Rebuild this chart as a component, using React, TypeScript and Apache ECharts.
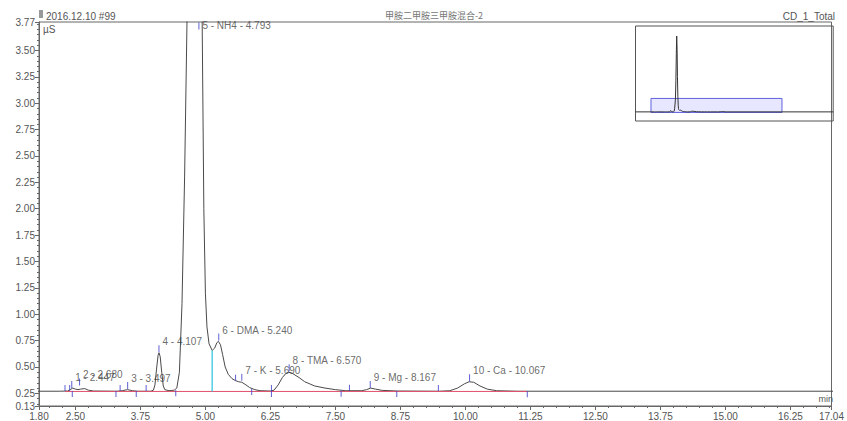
import React, { useEffect, useRef } from 'react';
import * as echarts from 'echarts';

// Chromatogram trace (retention time in min, conductivity in µS)
const traceT = [0.0, 1.80, 2.20, 2.35, 2.40, 2.45, 2.50, 2.55, 2.60, 2.68, 2.75, 2.85, 3.30, 3.40, 3.50, 3.60, 3.70, 3.95, 4.00, 4.03, 4.06, 4.09, 4.107, 4.13, 4.16, 4.19, 4.22, 4.30, 4.40, 4.45, 4.50, 4.55, 4.60, 4.65, 4.70, 4.75, 4.793, 4.84, 4.88, 4.93, 4.97, 5.00, 5.03, 5.07, 5.13, 5.18, 5.22, 5.25, 5.29, 5.33, 5.38, 5.44, 5.51, 5.58, 5.64, 5.70, 5.78, 5.85, 5.95, 6.05, 6.25, 6.32, 6.40, 6.48, 6.55, 6.60, 6.67, 6.80, 6.91, 7.10, 7.30, 7.50, 7.70, 8.00, 8.10, 8.18, 8.27, 8.40, 8.70, 9.50, 9.70, 9.85, 9.98, 10.07, 10.16, 10.28, 10.42, 10.60, 11.00, 17.04, 23.0];
const traceV = [0.27, 0.27, 0.27, 0.272, 0.285, 0.30, 0.29, 0.285, 0.29, 0.295, 0.28, 0.272, 0.27, 0.275, 0.285, 0.275, 0.27, 0.27, 0.28, 0.33, 0.48, 0.61, 0.635, 0.60, 0.45, 0.32, 0.285, 0.275, 0.28, 0.30, 0.45, 1.1, 2.3, 3.9, 8.5, 15.5, 20.0, 16.5, 9.5, 4.2, 2.0, 1.2, 0.88, 0.72, 0.656, 0.68, 0.73, 0.743, 0.71, 0.62, 0.50, 0.43, 0.39, 0.37, 0.36, 0.355, 0.33, 0.305, 0.285, 0.275, 0.272, 0.28, 0.33, 0.40, 0.44, 0.45, 0.44, 0.40, 0.36, 0.32, 0.30, 0.285, 0.275, 0.275, 0.285, 0.30, 0.29, 0.278, 0.272, 0.27, 0.275, 0.30, 0.34, 0.36, 0.355, 0.32, 0.29, 0.275, 0.27, 0.27, 0.27];

// Peak table
const peakNo = ['1', '2', '3', '4', '5', '6', '7', '8', '9', '10'];
const peakName = ['', '', '', '', 'NH4', 'DMA', 'K', 'TMA', 'Mg', 'Ca'];
const peakRT = ['2.447', '2.680', '3.497', '4.107', '4.793', '5.240', '5.690', '6.570', '8.167', '10.067'];
const peakTickT = [2.43, 2.58, 3.505, 4.107, 4.875, 5.257, 5.70, 6.61, 8.17, 10.08];
const peakTickV = [0.30, 0.325, 0.29, 0.64, 3.70, 0.75, 0.37, 0.46, 0.30, 0.365];

// Peak start / end markers
const markerUpT = [2.30, 2.39, 3.36, 3.86, 5.58, 6.27, 7.77, 9.48];
const markerUpV = [0.272, 0.272, 0.272, 0.272, 0.37, 0.272, 0.275, 0.272];
const markerDownT = [2.44, 3.28, 3.67, 4.43, 5.89, 6.27, 7.61, 8.68, 11.19];
const markerDownV = [0.272, 0.272, 0.272, 0.28, 0.29, 0.272, 0.275, 0.272, 0.27];

// Baseline and peak delimiter
const baselineT = [2.30, 11.19];
const baselineV = [0.268, 0.268];
const dropT = [5.13, 5.13];
const dropV = [0.656, 0.268];

// Axis ticks
const yTickLabels = [0.13, 0.25, 0.5, 0.75, 1.0, 1.25, 1.5, 1.75, 2.0, 2.25, 2.5, 2.75, 3.0, 3.25, 3.5, 3.77];
const xTickLabels = [1.8, 2.5, 3.75, 5.0, 6.25, 7.5, 8.75, 10.0, 11.25, 12.5, 13.75, 15.0, 16.25, 17.04];

const X_MIN = 1.8, X_MAX = 17.04, Y_MIN = 0.13, Y_MAX = 3.77;

function minorTicks(a: number, b: number, step: number, majors: number[]) {
  const out: number[] = [];
  for (let v = Math.ceil(a / step - 1e-9) * step; v <= b + 1e-9; v += step) {
    const r = Math.round(v * 100) / 100;
    if (!majors.some((m) => Math.abs(m - r) < 1e-6)) out.push(r);
  }
  return out;
}

export default function App() {
  const ref = useRef<HTMLDivElement>(null);
  useEffect(() => {
    if (!ref.current) return;
    const chart = echarts.init(ref.current, undefined, { renderer: 'svg' });
    const font = 'Liberation Sans, Arial, sans-serif';
    const trace = traceT.map((t, i) => [t, traceV[i]]);
    const peakData = peakTickT.map((t, i) => {
      const text = peakName[i] ? `${peakNo[i]} - ${peakName[i]} - ${peakRT[i]}` : `${peakNo[i]} - ${peakRT[i]}`;
      const top = peakTickV[i] > 3.5;
      return {
        value: [t, peakTickV[i]],
        label: { formatter: text, offset: top ? [0, 0] : [0, -7] },
      };
    });
    const xMinor = minorTicks(X_MIN, X_MAX, 0.25, xTickLabels);
    const yMinor = minorTicks(Y_MIN, Y_MAX, 0.05, yTickLabels);
    const axisLabelStyle = { color: '#555', fontSize: 10, fontFamily: font };

    chart.setOption({
      animation: false,
      grid: [
        { left: 39, top: 22, width: 798, height: 385.7, show: true, borderColor: '#666', borderWidth: 1, backgroundColor: 'transparent' },
        { left: 635.5, top: 26, width: 197.7, height: 95, show: true, borderColor: '#555', borderWidth: 1 },
      ],
      xAxis: [
        {
          type: 'value', gridIndex: 0, min: X_MIN, max: X_MAX, position: 'bottom',
          axisLine: { show: true, lineStyle: { color: '#666' } },
          axisTick: { show: true, customValues: xTickLabels, length: 4, lineStyle: { color: '#666' } },
          axisLabel: { show: true, customValues: xTickLabels, formatter: (v: number) => v.toFixed(2), margin: 5, ...axisLabelStyle },
          splitLine: { show: false },
        },
        {
          type: 'value', gridIndex: 0, min: X_MIN, max: X_MAX, position: 'bottom',
          axisLine: { show: false },
          axisTick: { show: true, customValues: xMinor, length: 2, lineStyle: { color: '#666' } },
          axisLabel: { show: false },
          splitLine: { show: false },
        },
        { type: 'value', gridIndex: 1, min: 0, max: 23, show: false },
      ],
      yAxis: [
        {
          type: 'value', gridIndex: 0, min: Y_MIN, max: Y_MAX, position: 'left',
          axisLine: { show: true, lineStyle: { color: '#666' } },
          axisTick: { show: true, customValues: yTickLabels, length: 4, lineStyle: { color: '#666' } },
          axisLabel: { show: true, customValues: yTickLabels, formatter: (v: number) => v.toFixed(2), margin: 4, ...axisLabelStyle },
          splitLine: { show: false },
        },
        {
          type: 'value', gridIndex: 0, min: Y_MIN, max: Y_MAX, position: 'left',
          axisLine: { show: false },
          axisTick: { show: true, customValues: yMinor, length: 2, lineStyle: { color: '#666' } },
          axisLabel: { show: false },
          splitLine: { show: false },
        },
        { type: 'value', gridIndex: 1, min: -2.1, max: 22.6, show: false },
      ],
      graphic: [
        { type: 'rect', left: 39, top: 10, shape: { width: 4, height: 8 }, style: { fill: '#999' } },
        { type: 'text', left: 46, top: 11, style: { text: '2016.12.10 #99', fill: '#555', font: `10px ${font}` } },
        { type: 'text', left: 43, top: 24, style: { text: 'µS', fill: '#555', font: `10px ${font}` } },
        { type: 'text', left: 385, top: 11, style: { text: '甲胺二甲胺三甲胺混合-2', fill: '#777', font: `9px "Noto Sans CJK SC", sans-serif` } },
        { type: 'text', right: 12, top: 11, style: { text: 'CD_1_Total', fill: '#555', font: `10px ${font}` } },
        { type: 'text', right: 14, top: 394, style: { text: 'min', fill: '#555', font: `9px ${font}` } },
      ],
      series: [
        {
          type: 'line', xAxisIndex: 0, yAxisIndex: 0, data: trace, showSymbol: false, clip: true,
          lineStyle: { color: '#4a4a4a', width: 1 }, z: 2,
        },
        {
          type: 'line', xAxisIndex: 0, yAxisIndex: 0, data: baselineT.map((t, i) => [t, baselineV[i]]), showSymbol: false,
          lineStyle: { color: '#e0506a', width: 1 }, z: 3,
        },
        {
          type: 'line', xAxisIndex: 0, yAxisIndex: 0, data: dropT.map((t, i) => [t, dropV[i]]), showSymbol: false,
          lineStyle: { color: '#38c8e0', width: 1.3 }, z: 3,
        },
        {
          type: 'scatter', xAxisIndex: 0, yAxisIndex: 0, data: markerUpT.map((t, i) => [t, markerUpV[i]]),
          symbol: 'rect', symbolSize: [1, 6], symbolOffset: [0, -3], itemStyle: { color: '#3838c8' }, z: 4,
        },
        {
          type: 'scatter', xAxisIndex: 0, yAxisIndex: 0, data: markerDownT.map((t, i) => [t, markerDownV[i]]),
          symbol: 'rect', symbolSize: [1, 6], symbolOffset: [0, 3], itemStyle: { color: '#3838c8' }, z: 4,
        },
        {
          type: 'scatter', xAxisIndex: 0, yAxisIndex: 0, data: peakData,
          symbol: 'rect', symbolSize: [1, 7], symbolOffset: [0, -3.5], itemStyle: { color: '#3838c8' }, z: 5,
          label: { show: true, position: 'right', distance: 3, color: '#444', fontSize: 10, fontFamily: font },
        },
        {
          type: 'line', xAxisIndex: 2, yAxisIndex: 2, data: trace, showSymbol: false,
          lineStyle: { color: '#333', width: 1 }, z: 3,
          markArea: {
            silent: true,
            itemStyle: { color: 'rgba(215,215,255,0.6)', borderColor: '#6060e0', borderWidth: 1 },
            data: [[{ coord: [X_MIN, Y_MIN] }, { coord: [X_MAX, Y_MAX] }]],
          },
        },
      ],
    });
    return () => chart.dispose();
  }, []);
  return <div ref={ref} style={{ position: 'fixed', left: 0, top: 0, width: 847, height: 421, background: '#fff' }} />;
}
